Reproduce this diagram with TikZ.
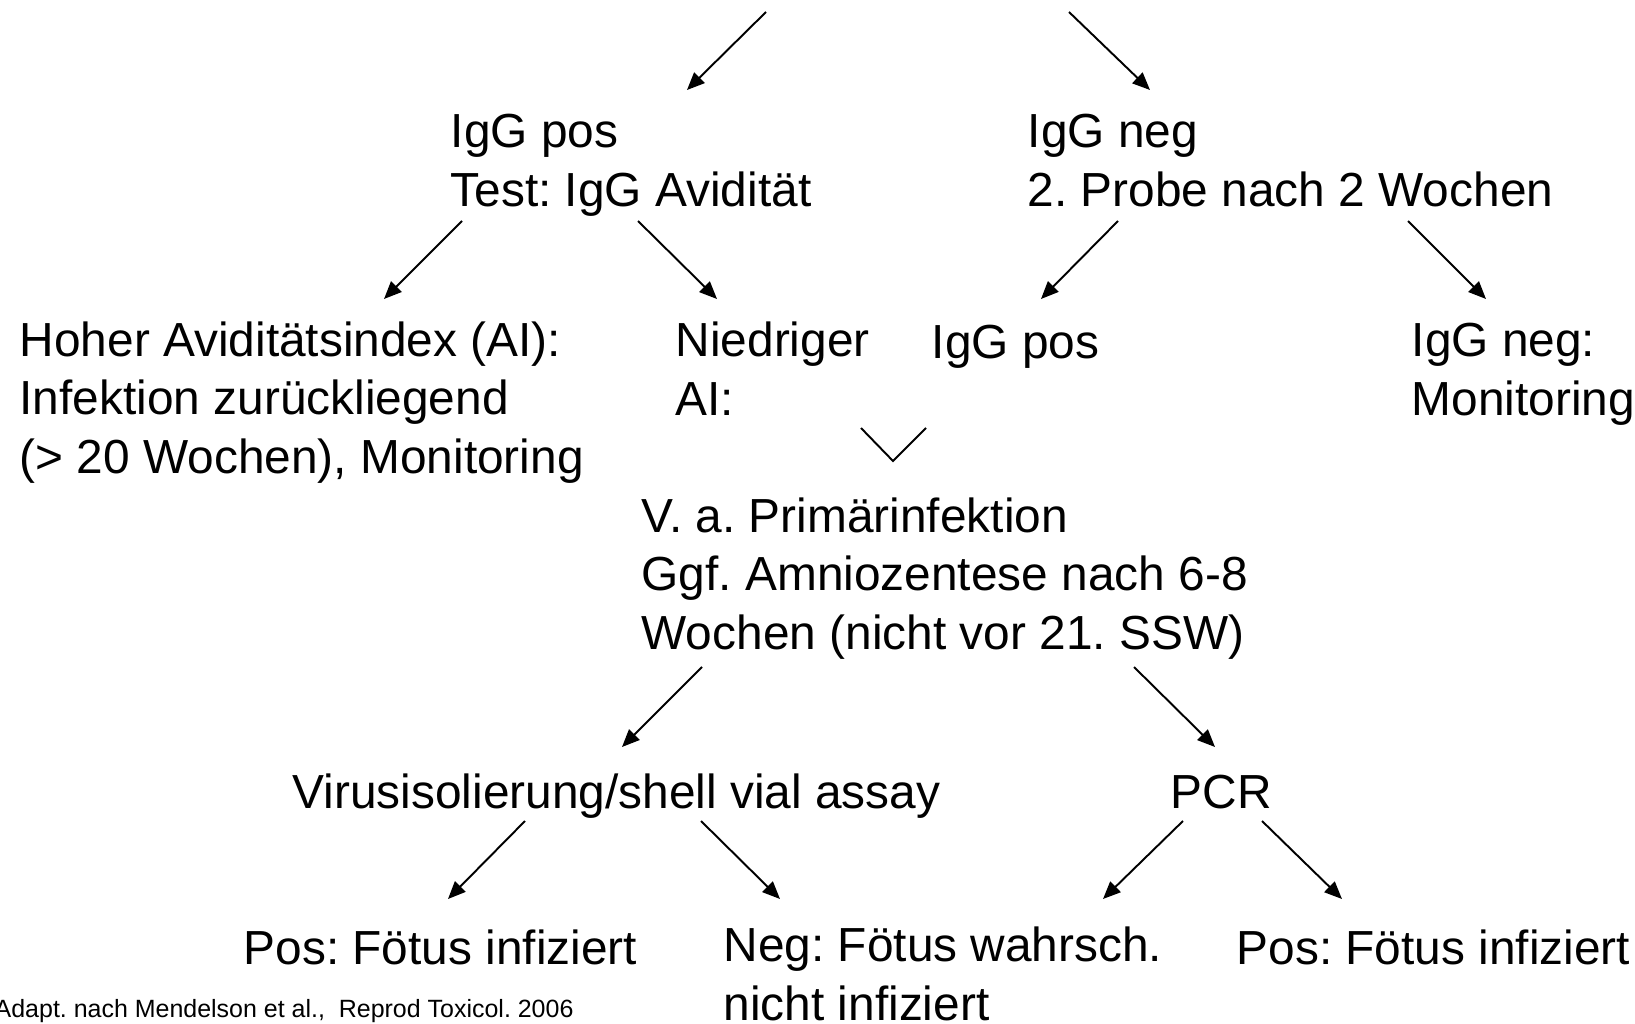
\documentclass[tikz,border=0pt]{standalone}
\usepackage{fontspec}
\setmainfont{Liberation Sans}
\frenchspacing
\usetikzlibrary{arrows.meta}
\tikzset{
  txt/.style={anchor=base west, inner sep=0pt, align=left, font=\fontsize{13.6}{16.5}\selectfont},
  cite/.style={anchor=base west, inner sep=0pt, font=\fontsize{7.1}{8}\selectfont},
  arr/.style={-{Triangle[length=5pt,width=4.2pt]}, line width=0.55pt},
}
\begin{document}
\begin{tikzpicture}[x=0.01cm,y=-0.01cm]
  \useasboundingbox (0,0) rectangle (1635,1024);

  %--- first test ---
  \coordinate (topL) at (766,12);
  \coordinate (topR) at (1069,12);
  \node[txt] (igpos) at (450,206) {IgG pos\\Test: IgG Avidität};
  \node[txt] (igneg) at (1027,206) {IgG neg\\2. Probe nach 2 Wochen};
  \coordinate (igposT) at (687,90);
  \coordinate (ignegT) at (1150,90);
  \draw[arr] (topL) -- (igposT);
  \draw[arr] (topR) -- (ignegT);

  %--- avidity / second sample ---
  \node[txt] (hoher) at (19,473) {Hoher Aviditätsindex (AI):\\Infektion zurückliegend\\(> 20 Wochen), Monitoring};
  \node[txt] (niedrig) at (675,415) {Niedriger\\AI:};
  \node[txt] (igpos2) at (931,358) {IgG pos};
  \node[txt] (igneg2) at (1411,415) {IgG neg:\\Monitoring};
  \coordinate (igposA) at (462,221);  \coordinate (hoherT) at (384,299);
  \coordinate (igposB) at (638,221);  \coordinate (niedrigT) at (717,299);
  \coordinate (ignegA) at (1118,221); \coordinate (igpos2T) at (1041,299);
  \coordinate (ignegB) at (1408,221); \coordinate (igneg2T) at (1486,299);
  \draw[arr] (igposA) -- (hoherT);
  \draw[arr] (igposB) -- (niedrigT);
  \draw[arr] (ignegA) -- (igpos2T);
  \draw[arr] (ignegB) -- (igneg2T);

  % merge
  \coordinate (vL) at (861,428);
  \coordinate (vM) at (893,461);
  \coordinate (vR) at (926,428);
  \draw[line width=0.55pt] (vL) -- (vM) -- (vR);

  %--- primary infection ---
  \node[txt] (verdacht) at (641,649) {V. a. Primärinfektion\\Ggf. Amniozentese nach 6-8\\Wochen (nicht vor 21. SSW)};
  \node[txt] (virusiso) at (292,808) {Virusisolierung/shell vial assay};
  \node[txt] (pcr) at (1170,808) {PCR};
  \coordinate (verdachtA) at (702,667);  \coordinate (virusisoT) at (622,747);
  \coordinate (verdachtB) at (1134,667); \coordinate (pcrT) at (1215,747);
  \draw[arr] (verdachtA) -- (virusisoT);
  \draw[arr] (verdachtB) -- (pcrT);

  %--- results ---
  \node[txt] (virpos) at (243,964) {Pos: Fötus infiziert};
  \node[txt] (virneg) at (723,1020) {Neg: Fötus wahrsch.\\nicht infiziert};
  \node[txt] (pcrpos) at (1236,964) {Pos: Fötus infiziert};
  \coordinate (virusisoA) at (525,821); \coordinate (virposT) at (448,899);
  \coordinate (virusisoB) at (701,821); \coordinate (virnegT) at (780,899);
  \coordinate (pcrA) at (1183,821);     \coordinate (pcrnegT) at (1103,899);
  \coordinate (pcrB) at (1262,821);     \coordinate (pcrposT) at (1342,899);
  \draw[arr] (virusisoA) -- (virposT);
  \draw[arr] (virusisoB) -- (virnegT);
  \draw[arr] (pcrA) -- (pcrnegT);
  \draw[arr] (pcrB) -- (pcrposT);

  % source
  \node[cite] (quelle) at (-6,1017) {Adapt. nach Mendelson et al.,\ \ Reprod Toxicol. 2006};
\end{tikzpicture}
\end{document}
